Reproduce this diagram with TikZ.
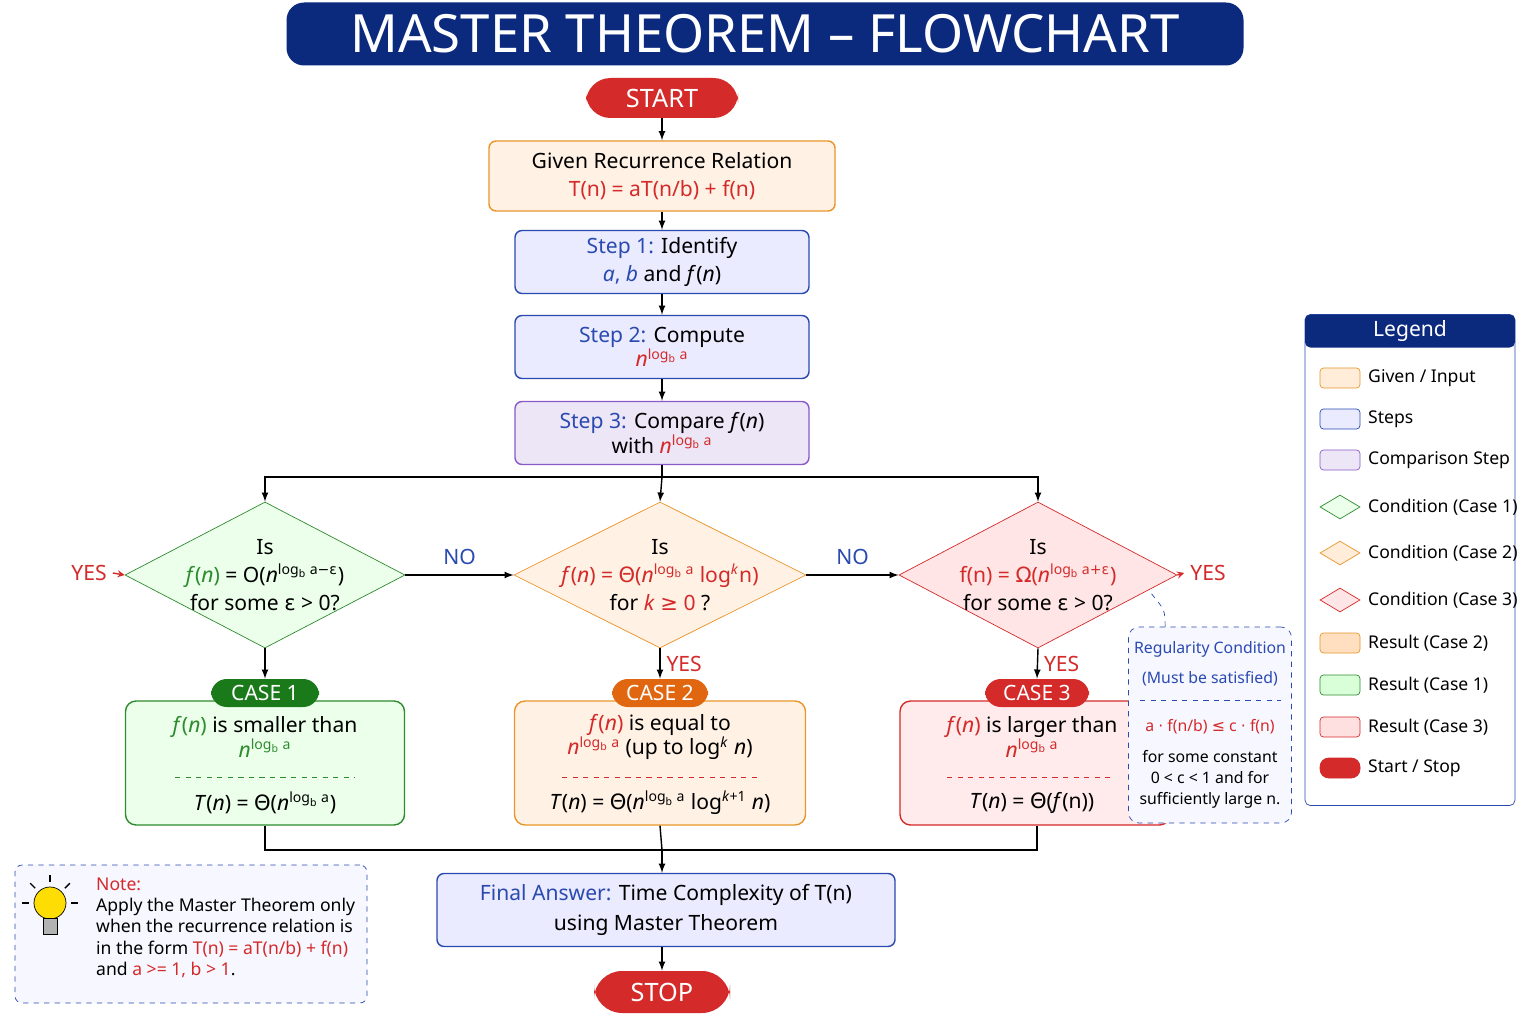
\documentclass[tikz,border=0pt]{standalone}
\usepackage{fontspec}
\setmainfont{Noto Sans}
\newfontfamily\symf{DejaVu Sans}
\usepackage{tikz}
\usetikzlibrary{arrows}
\usetikzlibrary{shapes.geometric}
\usetikzlibrary{positioning}
\definecolor{navy}{HTML}{0B2A7E}
\definecolor{stepblue}{HTML}{2A4AB0}
\definecolor{redc}{HTML}{D42A2A}
\definecolor{greenc}{HTML}{2E8B2E}
\definecolor{darkgreen}{HTML}{1A7A1A}
\definecolor{orangec}{HTML}{E8962A}
\definecolor{darkorange}{HTML}{E0660F}
\definecolor{purplec}{HTML}{8A5AC8}
\newcommand{\itn}{\textit{n}}
\newcommand{\fofn}{\textit{f}(\textit{n})}
\newcommand{\nlb}[1]{\textit{n}\textsuperscript{log\textsubscript{b} a#1}}
\newcommand{\pxu}{0.02cm}

\tikzset{
  box/.style={draw,rounded corners=4pt,thick,align=center,font=\large,inner sep=0pt},
  given/.style={box,draw=orangec,fill=orange!10},
  stepbox/.style={box,draw=stepblue,fill=blue!8},
  cmpbox/.style={box,draw=purplec,fill=purplec!15},
  pill/.style={draw=none,rounded corners=14pt,text=white,font=\bfseries\Large,inner sep=0pt},
  tag/.style={rounded corners=9pt,text=white,font=\bfseries\large,inner sep=0pt,minimum height=28*\pxu},
  cond/.style={diamond,draw,thin,inner sep=0pt},
  res/.style={draw,thick,rounded corners=6pt},
  flow/.style={->,>=latex,thick,black},
  lbl/.style={font=\large\bfseries},
  legicon/.style={draw,thin,rounded corners=2pt,minimum width=40*\pxu,minimum height=20*\pxu,inner sep=0pt},
  legtext/.style={anchor=west,font=\normalsize},
}

\begin{document}
\begin{tikzpicture}[x=0.02cm,y=-0.02cm]
  \useasboundingbox[fill=white] (0,0) rectangle (1536,1024);

  % title
  \node[fill=navy,rounded corners=10pt,minimum width=957*\pxu,minimum height=63*\pxu,text=white,font=\bfseries\fontsize{30}{34}\selectfont] (title) at (765,34) {MASTER THEOREM – FLOWCHART};

  % main column
  \node[pill,fill=redc,minimum width=152*\pxu,minimum height=40*\pxu] (start) at (662,98) {START};
  \node[given,minimum width=346*\pxu,minimum height=70*\pxu] (given) at (662,176)
    {Given Recurrence Relation\\[2pt] \textcolor{redc}{T(n) = aT(n/b) + f(n)}};
  \node[stepbox,minimum width=294*\pxu,minimum height=63*\pxu] (step1) at (662,262)
    {\textcolor{stepblue}{\bfseries Step 1:} Identify\\[2pt] \textcolor{stepblue}{\textit{a}, \textit{b}} and \textit{f}(\itn)};
  \node[stepbox,minimum width=294*\pxu,minimum height=63*\pxu] (step2) at (662,347)
    {\textcolor{stepblue}{\bfseries Step 2:} Compute\\ \textcolor{redc}{\nlb{}}};
  \node[cmpbox,minimum width=294*\pxu,minimum height=63*\pxu] (step3) at (662,433)
    {\textcolor{stepblue}{\bfseries Step 3:} Compare \textit{f}(\itn)\\ with \textcolor{redc}{\nlb{}}};
  \draw[flow] (start) -- (given);
  \draw[flow] (given) -- (step1);
  \draw[flow] (step1) -- (step2);
  \draw[flow] (step2) -- (step3);

  % conditions
  \node[cond,draw=greenc,fill=green!8,minimum width=280*\pxu,minimum height=146*\pxu] (c1) at (265,575) {};
  \node[cond,draw=orangec,fill=orange!10,minimum width=292*\pxu,minimum height=146*\pxu] (c2) at (660,575) {};
  \node[cond,draw=redc,fill=red!10,minimum width=278*\pxu,minimum height=146*\pxu] (c3) at (1038,575) {};
  \node[align=center,font=\large] (c1t) at (c1) {Is\\[2pt] \textcolor{greenc}{\fofn} = O(\nlb{{\symf −ε}})\\[2pt] for some {\symf ε} > 0?};
  \node[align=center,font=\large] (c2t) at (c2) {Is\\[2pt] \textcolor{redc}{\fofn\ = {\symf Θ}(\nlb{} log\textsuperscript{\textit{k}}n)}\\[2pt] for \textcolor{redc}{\textit{k} {\symf ≥} 0} ?};
  \node[align=center,font=\large] (c3t) at (c3) {Is\\[2pt] \textcolor{redc}{f(n) = {\symf Ω}(\nlb{{\symf +ε}})}\\[2pt] for some {\symf ε} > 0?};

  \coordinate (split) at (662,477);
  \draw[thick] (step3) -- (split);
  \draw[flow] (split) -- (c2.north);
  \draw[flow] (split) -| (c1.north);
  \draw[flow] (split) -| (c3.north);
  \draw[flow] (c1.east) -- node[above,lbl,text=stepblue,yshift=2pt] {NO} (c2.west);
  \draw[flow] (c2.east) -- node[above,lbl,text=stepblue,yshift=2pt] {NO} (c3.west);

  \node[lbl,text=redc] (yes1) at (89,573) {YES};
  \node[lbl,text=redc] (yes3) at (1208,573) {YES};
  \draw[->,>=stealth,redc,thick] (yes1.east) -- (c1.west);
  \draw[->,>=stealth,redc,thick] (c3.east) -- (yes3.west);

  % results
  \node[res,draw=greenc,fill=green!8,minimum width=279*\pxu,minimum height=124*\pxu] (r1) at (265,763) {};
  \node[res,draw=orangec,fill=orange!10,minimum width=291*\pxu,minimum height=124*\pxu] (r2) at (660,763) {};
  \node[res,draw=redc,fill=red!8,minimum width=270*\pxu,minimum height=124*\pxu] (r3) at (1035,763) {};
  \node[tag,fill=darkgreen,minimum width=108*\pxu] (t1) at (265,693) {CASE 1};
  \node[tag,fill=darkorange,minimum width=96*\pxu] (t2) at (660,693) {CASE 2};
  \node[tag,fill=redc,minimum width=104*\pxu] (t3) at (1037,693) {CASE 3};
  \draw[flow] (c1.south) -- (t1.north);
  \draw[flow] (c2.south) -- node[right,lbl,text=redc] {YES} (t2.north);
  \draw[flow] (c3.south) -- node[right,lbl,text=redc] {YES} (t3.north);

  \node[align=center,font=\large] (r1a) at (265,737) {\textcolor{greenc}{\fofn} is smaller than\\ \textcolor{greenc}{\nlb{}}};
  \node[align=center,font=\large] (r2a) at (660,737) {\textcolor{redc}{\fofn} is equal to\\ \textcolor{redc}{\nlb{}} (up to log\textsuperscript{\textit{k}} \itn)};
  \node[align=center,font=\large] (r3a) at (1032,737) {\textcolor{redc}{\fofn} is larger than\\ \textcolor{redc}{\nlb{}}};
  \draw[greenc,dashed] (175,777) -- (355,777);
  \draw[redc,dashed] (562,777) -- (760,777);
  \draw[redc,dashed] (947,777) -- (1115,777);
  \node[font=\large] (r1b) at (265,803) {\textit{T}(\itn) = {\symf Θ}(\nlb{})};
  \node[font=\large] (r2b) at (660,803) {\textit{T}(\itn) = {\symf Θ}(\nlb{} log\textsuperscript{\textit{k}+1} \itn)};
  \node[font=\large] (r3b) at (1032,803) {\textit{T}(\itn) = {\symf Θ}(\textit{f}(n))};

  % regularity condition
  \node[draw=stepblue,dashed,fill=blue!3,rounded corners=6pt,minimum width=163*\pxu,minimum height=196*\pxu] (reg) at (1210,725) {};
  \node[align=center,font=\small,text=stepblue] (regh) at (1210,664) {\bfseries Regularity Condition\\[6pt] (Must be satisfied)};
  \draw[stepblue,dashed] (1140,700) -- (1281,700);
  \node[align=center,font=\small,text=redc] (regf) at (1210,727) {a {\symf ·} f(n/b) {\symf ≤} c {\symf ·} f(n)};
  \node[align=center,font=\small] (regt) at (1210,779) {for some constant\\[1pt] 0 < c < 1 and for\\[1pt] sufficiently large n.};
  \draw[stepblue,dashed] (reg.north west) ++(37,0) .. controls (1165,610) .. (1150,592);

  % merge
  \node[box,draw=stepblue,fill=blue!8,minimum width=458*\pxu,minimum height=73*\pxu] (final) at (666,910)
    {\textcolor{stepblue}{\bfseries Final Answer:} Time Complexity of T(n)\\[3pt] using Master Theorem};
  \coordinate (merge) at (662,850);
  \draw[thick] (r1.south) |- (merge);
  \draw[thick] (r3.south -| t3) |- (merge);
  \draw[thick] (r2.south) -- (merge);
  \draw[flow] (merge) -- (final.north -| merge);
  \node[pill,fill=redc,minimum width=136*\pxu,minimum height=42*\pxu,rounded corners=16pt] (stop) at (662,992) {STOP};
  \draw[flow] (final.south -| stop) -- (stop);

  % note
  \node[draw=stepblue,dashed,fill=blue!3,rounded corners=4pt,minimum width=352*\pxu,minimum height=138*\pxu] (note) at (191,934) {};
  \node[anchor=north west,align=left,font=\normalsize] (notet) at (90,872)
    {\textcolor{redc}{\bfseries Note:}\\ Apply the Master Theorem only\\ when the recurrence relation is\\ in the form \textcolor{redc}{T(n) = aT(n/b) + f(n)}\\ and \textcolor{redc}{a >= 1, b > 1}.};
  \fill[yellow!80!orange,draw=black,thin] (50,903) circle (16);
  \fill[gray!60,draw=black,thin] (43,918) rectangle (57,934);
  \foreach \a in {0,45,90,135,180} {
    \draw[thick] (50,903) ++(180+\a:21) -- ++(180+\a:7);
  }

  % legend
  \node[draw=stepblue,fill=white,rounded corners=3pt,minimum width=210*\pxu,minimum height=491*\pxu] (legend) at (1410,560) {};
  \node[fill=navy,rounded corners=3pt,minimum width=210*\pxu,minimum height=33*\pxu,text=white,font=\large] (legh) at (1410,331) {Legend};
  \node[legicon,draw=orangec,fill=orange!15] (l1) at (1340,378) {};
  \node[legicon,draw=stepblue,fill=blue!8] (l2) at (1340,419) {};
  \node[legicon,draw=purplec,fill=purplec!15] (l3) at (1340,460) {};
  \node[diamond,draw=greenc,fill=green!8,minimum width=40*\pxu,minimum height=24*\pxu,inner sep=0pt] (l4) at (1340,507) {};
  \node[diamond,draw=orangec,fill=orange!15,minimum width=40*\pxu,minimum height=24*\pxu,inner sep=0pt] (l5) at (1340,553) {};
  \node[diamond,draw=redc,fill=red!10,minimum width=40*\pxu,minimum height=24*\pxu,inner sep=0pt] (l6) at (1340,600) {};
  \node[legicon,draw=orangec,fill=orange!25] (l7) at (1340,643) {};
  \node[legicon,draw=greenc,fill=green!15] (l8) at (1340,685) {};
  \node[legicon,draw=redc,fill=red!12] (l9) at (1340,727) {};
  \node[legicon,draw=redc,fill=redc,rounded corners=5pt] (l10) at (1340,768) {};
  \node[legtext] at (1362,378) {Given / Input};
  \node[legtext] at (1362,419) {Steps};
  \node[legtext] at (1362,460) {Comparison Step};
  \node[legtext] at (1362,507) {Condition (Case 1)};
  \node[legtext] at (1362,553) {Condition (Case 2)};
  \node[legtext] at (1362,600) {Condition (Case 3)};
  \node[legtext] at (1362,643) {Result (Case 2)};
  \node[legtext] at (1362,685) {Result (Case 1)};
  \node[legtext] at (1362,727) {Result (Case 3)};
  \node[legtext] at (1362,768) {Start / Stop};
\end{tikzpicture}
\end{document}
